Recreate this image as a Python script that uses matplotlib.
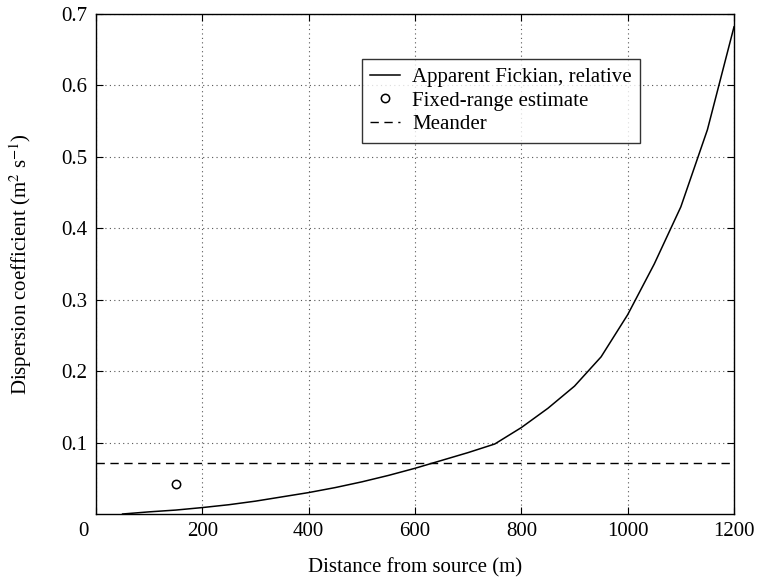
import matplotlib
matplotlib.use('Agg')
import matplotlib.pyplot as plt
from matplotlib.transforms import ScaledTranslation

# apparent Fickian dispersion coefficient (relative) vs distance
distance = [50, 100, 150, 200, 250, 300, 350, 400, 450, 500, 550, 600, 650, 700,
            750, 800, 850, 900, 950, 1000, 1050, 1100, 1150, 1200]
fickian = [0.0, 0.003, 0.0055, 0.009, 0.013, 0.018, 0.024, 0.030, 0.037, 0.045,
           0.054, 0.064, 0.075, 0.086, 0.098, 0.121, 0.148, 0.179, 0.220, 0.279,
           0.350, 0.430, 0.538, 0.682]

fixed_x = [150]
fixed_y = [0.042]

meander = 0.071

xticks = [0, 200, 400, 600, 800, 1000, 1200]
yticks = [0.1, 0.2, 0.3, 0.4, 0.5, 0.6, 0.7]

plt.rcParams['font.family'] = ['Liberation Serif', 'DejaVu Serif']
plt.rcParams['mathtext.fontset'] = 'stix'

fig = plt.figure(figsize=(7.59, 5.83), dpi=100)
ax = fig.add_axes([96 / 759, 69 / 583, 638 / 759, 500 / 583])

ax.plot(distance, fickian, '-', color='black', lw=1.1, label='Apparent Fickian, relative')
ax.plot(fixed_x, fixed_y, 'o', mfc='none', mec='black', ms=6, mew=1.1,
        label='Fixed-range estimate')
ax.axhline(meander, color='black', lw=1.0, dashes=(6, 4), label='Meander')

ax.set_xlim(0, 1200)
ax.set_ylim(0, 0.7)
ax.set_xticks(xticks)
ax.set_yticks(yticks)
ax.grid(True, linestyle=(0, (1, 3)), color='#555555', lw=0.8)
ax.tick_params(direction='in', top=True, right=True, length=5, width=0.8,
               labelsize=15, pad=6)
for s in ax.spines.values():
    s.set_linewidth(1.0)

# the "0" label sits a little left of its tick in the original
lbl0 = ax.get_xticklabels()[0]
lbl0.set_transform(lbl0.get_transform() + ScaledTranslation(-0.13, 0, fig.dpi_scale_trans))

ax.set_xlabel('Distance from source (m)', fontsize=15, labelpad=12)
ax.set_ylabel(r'Dispersion coefficient (m$^{2}$ s$^{-1}$)', fontsize=15, labelpad=20)

leg = ax.legend(loc='upper left', bbox_to_anchor=(0.417, 0.91), borderaxespad=0,
                fontsize=15, frameon=True, fancybox=False, handlelength=1.4,
                labelspacing=0.2, borderpad=0.4, handletextpad=0.6)
leg.get_frame().set_edgecolor('black')
leg.get_frame().set_linewidth(1.0)

plt.savefig('out.png', dpi=100)
